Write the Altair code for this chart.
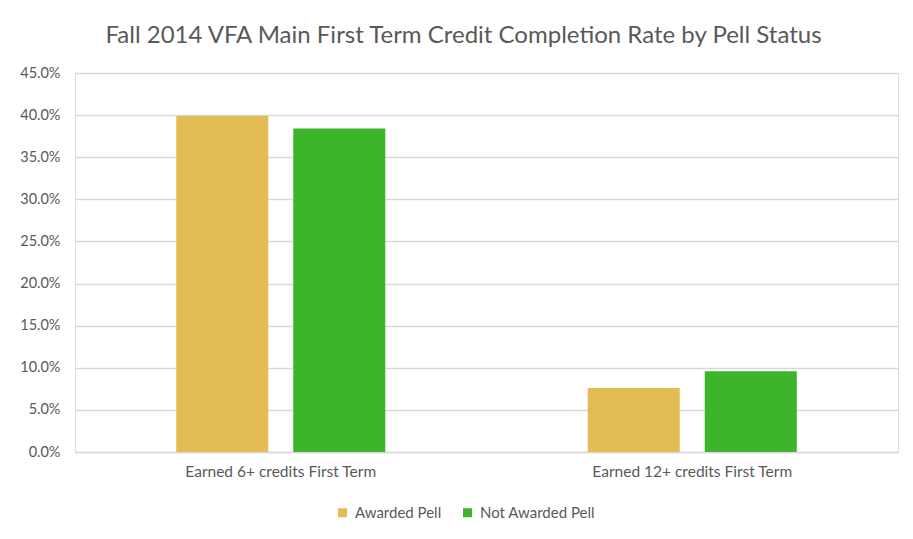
import altair as alt
import pandas as pd

categories = ["Earned 6+ credits First Term", "Earned 12+ credits First Term"]
series = ["Awarded Pell", "Not Awarded Pell"]
awarded = [0.399, 0.076]
not_awarded = [0.384, 0.096]
colors = ["#E3BD53", "#3CB52B"]

rows = []
for i, c in enumerate(categories):
    rows.append({"category": c, "series": series[0], "value": awarded[i]})
    rows.append({"category": c, "series": series[1], "value": not_awarded[i]})
df = pd.DataFrame(rows)

FONT = "Lato"
GREY = "#595959"

bars = alt.Chart(df).mark_bar().encode(
    x=alt.X("category:N", sort=categories, title=None,
            scale=alt.Scale(paddingInner=0, paddingOuter=0),
            axis=alt.Axis(labelAngle=0, ticks=False, domainColor="#d9d9d9",
                          domainWidth=1.5, labelPadding=12, labelFontSize=15.5,
                          labelLimit=400,
                          labelColor=GREY, labelFont=FONT)),
    xOffset=alt.XOffset("series:N", sort=series,
                        scale=alt.Scale(paddingInner=0.2137, paddingOuter=0.865)),
    y=alt.Y("value:Q", title=None,
            scale=alt.Scale(domain=[0, 0.45]),
            axis=alt.Axis(format=".1%", values=[i * 0.05 for i in range(10)],
                          ticks=False, domain=False, labelPadding=15,
                          labelFontSize=14.5, labelColor=GREY, labelFont=FONT,
                          gridColor="#d9d9d9", gridWidth=1.5)),
    color=alt.Color("series:N", sort=series, title=None,
                    scale=alt.Scale(domain=series, range=colors),
                    legend=alt.Legend(orient="none", direction="horizontal",
                                      legendX=260, legendY=432,
                                      symbolType="square", symbolSize=81,
                                      symbolStrokeWidth=0, labelFontSize=15,
                                      labelColor=GREY, labelFont=FONT,
                                      columnPadding=18, labelOffset=5)),
)

chart = bars.properties(
    width=823,
    height=379,
    autosize=alt.AutoSizeParams(type="none"),
    padding={"left": 67, "top": 65, "right": 7, "bottom": 78},
    title=alt.Title("Fall 2014 VFA Main First Term Credit Completion Rate by Pell Status",
                    fontSize=24, font=FONT, fontWeight="normal", color=GREY,
                    anchor="middle", offset=17, dx=-23),
).configure_view(stroke=None).configure(background="white")

chart.save("out.html", embed_options={"renderer": "svg", "actions": False})
